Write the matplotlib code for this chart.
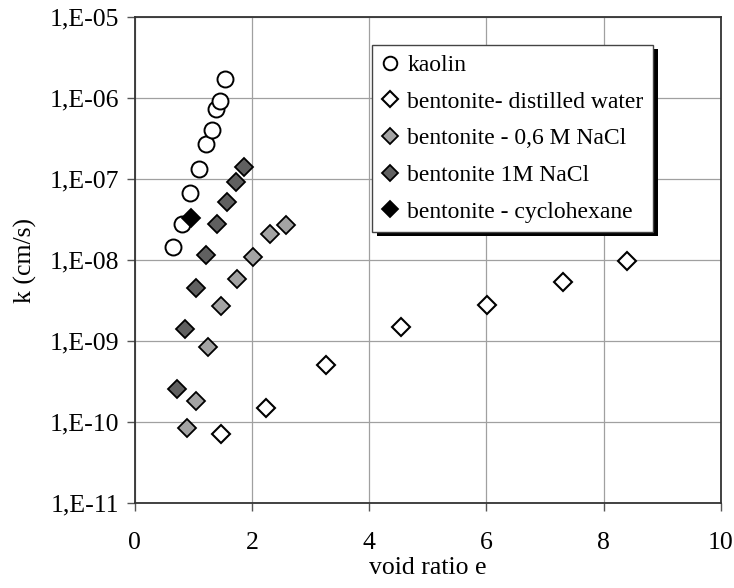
import numpy as np
import matplotlib.pyplot as plt
from matplotlib.ticker import FuncFormatter, NullLocator
from matplotlib.patches import Rectangle

plt.rcParams['font.family'] = ['Liberation Serif', 'DejaVu Serif']

# void ratio e / hydraulic conductivity k (cm/s)
kaolin_e = [0.66, 0.81, 0.95, 1.09, 1.21, 1.32, 1.39, 1.45, 1.54]
kaolin_k = [1.44e-8, 2.8e-8, 6.7e-8, 1.33e-7, 2.7e-7, 4.1e-7, 7.4e-7, 9.3e-7, 1.72e-6]

dist_e = [1.48, 2.24, 3.27, 4.54, 6.01, 7.31, 8.40]
dist_k = [7.1e-11, 1.5e-10, 5.1e-10, 1.51e-9, 2.76e-9, 5.3e-9, 9.9e-9]

nacl06_e = [0.89, 1.04, 1.25, 1.48, 1.75, 2.02, 2.30, 2.58]
nacl06_k = [8.4e-11, 1.83e-10, 8.4e-10, 2.7e-9, 5.9e-9, 1.08e-8, 2.1e-8, 2.75e-8]

nacl1_e = [0.72, 0.85, 1.05, 1.21, 1.40, 1.57, 1.73, 1.87]
nacl1_k = [2.55e-10, 1.42e-9, 4.5e-9, 1.16e-8, 2.8e-8, 5.3e-8, 9.3e-8, 1.43e-7]

cyclo_e = [0.96]
cyclo_k = [3.3e-8]

fig = plt.figure(figsize=(7.34, 5.88), dpi=100)
ax = fig.add_axes([134.7 / 734, 1 - 503 / 588, (721 - 134.7) / 734, (503 - 17.3) / 588])

ax.set_yscale('log')
ax.set_xlim(0, 10)
ax.set_ylim(1e-11, 1e-5)
ax.set_xticks([0, 2, 4, 6, 8, 10])
ax.set_yticks([10.0 ** p for p in range(-11, -4)])
ax.yaxis.set_minor_locator(NullLocator())
ax.yaxis.set_major_formatter(FuncFormatter(lambda v, pos: "1,E-%02d" % round(-np.log10(v))))

ax.grid(True, color='#a0a0a0', linewidth=0.9)
ax.set_axisbelow(True)
for s in ax.spines.values():
    s.set_color('#333333')
    s.set_linewidth(1.3)
ax.tick_params(direction='out', length=6, width=1, color='#555555', labelsize=18.5)
ax.tick_params(axis='x', pad=15)
ax.tick_params(axis='y', pad=5)

ms_d = 9.0
ax.plot(kaolin_e, kaolin_k, 'o', ms=11.5, mfc='white', mec='black', mew=1.4, ls='none', label='kaolin')
ax.plot(dist_e, dist_k, 'D', ms=ms_d, mfc='white', mec='black', mew=1.5, ls='none',
        label='bentonite- distilled water')
ax.plot(nacl06_e, nacl06_k, 'D', ms=ms_d, mfc='#a3a3a3', mec='black', mew=1.3, ls='none',
        label='bentonite - 0,6 M NaCl')
ax.plot(nacl1_e, nacl1_k, 'D', ms=ms_d, mfc='#606060', mec='black', mew=1.3, ls='none',
        label='bentonite 1M NaCl')
ax.plot(cyclo_e, cyclo_k, 'D', ms=ms_d, mfc='black', mec='black', mew=1.3, ls='none',
        label='bentonite - cyclohexane')

ax.set_xlabel('void ratio e', fontsize=18.5, labelpad=2)
ax.set_ylabel('k (cm/s)', fontsize=18.5, labelpad=9)

leg = ax.legend(loc='upper left', bbox_to_anchor=(372 / 734, 1 - 45 / 588),
                bbox_transform=fig.transFigure, borderaxespad=0, fontsize=17,
                fancybox=False, framealpha=1, edgecolor='#444444',
                handlelength=0.7, handletextpad=0.4, labelspacing=0.64,
                borderpad=0.4, markerscale=0.85)
leg.get_frame().set_linewidth(1.0)

# drop shadow behind the legend box
fig.canvas.draw()
bb = leg.get_window_extent(fig.canvas.get_renderer()).transformed(ax.transAxes.inverted())
dx = 5 / (721 - 134.7)
dy = 4 / (503 - 17.3)
ax.add_patch(Rectangle((bb.x0 + dx, bb.y0 - dy), bb.width, bb.height, transform=ax.transAxes,
                       facecolor='black', edgecolor='none', zorder=4.9, clip_on=False))

fig.savefig('out.png', dpi=100)
